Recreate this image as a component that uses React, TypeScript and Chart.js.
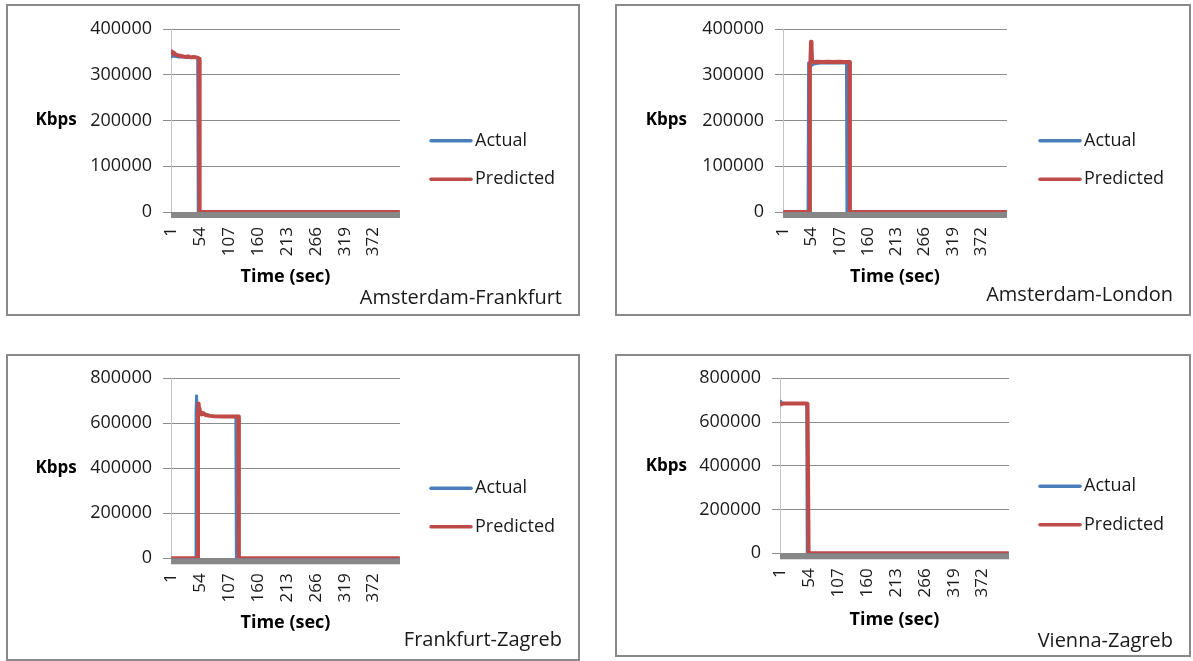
import React, { useEffect, useRef } from 'react';
import { Chart, registerables } from 'chart.js';

Chart.register(...registerables);

// ---------------- data ----------------
const X_TICK_LABELS = [1, 54, 107, 160, 213, 266, 319, 372];
const X_FIRST = 1;
const X_LAST = 420;
const SERIES_LABELS = ['Actual', 'Predicted'];
const Y_TITLE = 'Kbps';
const X_TITLE = 'Time (sec)';

// [time (sec), Kbps]
const AF_ACTUAL: [number, number][] = [
  [1, 341000], [2, 339000], [3, 342000], [4, 340000], [6, 341000], [8, 339000], [11, 340000],
  [14, 338000], [18, 339000], [22, 338000], [26, 339000], [30, 337000], [34, 338000], [38, 337000],
  [42, 338000], [46, 337000], [49, 336000], [50, 0], [420, 0],
];
const AF_PREDICTED: [number, number][] = [
  [1, 348000], [2, 351000], [3, 347000], [4, 349000], [5, 346000], [7, 347000], [9, 344000],
  [12, 343000], [15, 342000], [19, 341000], [23, 340000], [27, 339000], [32, 340000], [37, 338000],
  [42, 339000], [47, 338000], [50, 337000], [52, 335000], [53, 0], [420, 0],
];

const AL_ACTUAL: [number, number][] = [
  [1, 0], [47, 0], [48, 326000], [49, 312000], [50, 315000], [52, 318000], [54, 320000], [57, 322000],
  [61, 323500], [66, 324500], [72, 325000], [80, 325500], [90, 325000], [100, 325500], [110, 325000],
  [119, 325000], [120, 0], [420, 0],
];
const AL_PREDICTED: [number, number][] = [
  [1, 0], [50, 0], [51, 322000], [52, 330000], [53, 372000], [54, 360000], [55, 329000], [58, 328000],
  [65, 328500], [75, 328000], [85, 328500], [95, 328000], [105, 328500], [115, 328000], [125, 328000],
  [126, 0], [420, 0],
];

const FZ_ACTUAL: [number, number][] = [
  [1, 0], [45, 0], [46, 650000], [47, 722000], [48, 700000], [49, 668000], [50, 655000], [52, 648000],
  [54, 652000], [56, 645000], [59, 648000], [62, 643000], [66, 640000], [70, 636000], [76, 633000],
  [85, 631000], [100, 630000], [110, 630000], [119, 629000], [120, 0], [420, 0],
];
const FZ_PREDICTED: [number, number][] = [
  [1, 0], [49, 0], [50, 640000], [51, 688000], [52, 665000], [53, 642000], [55, 650000], [57, 640000],
  [60, 645000], [63, 638000], [67, 636000], [72, 633000], [80, 631000], [95, 630000], [110, 630000],
  [124, 630000], [125, 0], [420, 0],
];

const VZ_ACTUAL: [number, number][] = [
  [1, 696000], [2, 693000], [3, 690000], [4, 688000], [6, 687000], [10, 686000], [20, 685000],
  [30, 685500], [40, 685000], [48, 685000], [49, 680000], [50, 0], [420, 0],
];
const VZ_PREDICTED: [number, number][] = [
  [1, 680000], [2, 682000], [4, 684000], [8, 685000], [20, 685000], [35, 685000], [50, 685000],
  [51, 683000], [53, 0], [420, 0],
];

// ---------------- style / layout ----------------
const FONT = "'Open Sans', sans-serif";
const TEXT = '#1a1a1a';
const GRID = '#8c8c8c';
const AXIS = '#c4c4c4';
const BAND = '#878787';
const BLUE = '#4a7ebb';
const RED = '#be4b48';
const BORDER = 2;
const X_TITLE_SIZE = 18;

type PanelCfg = {
  title: string;
  actual: [number, number][];
  predicted: [number, number][];
  yMax: number;
  yStep: number;
  box: { left: number; top: number; right: number; bottom: number };
  plot: { left: number; top: number; right: number; bottom: number };
  timeY: number;
  kbpsRight: number;
  titleRight: number;
  titleY: number;
};

const PANELS: PanelCfg[] = [
  {
    title: 'Amsterdam-Frankfurt', actual: AF_ACTUAL, predicted: AF_PREDICTED, yMax: 400000, yStep: 100000,
    box: { left: 6, top: 4, right: 580, bottom: 316 },
    plot: { left: 171, top: 29, right: 400, bottom: 212 },
    timeY: 276.7, kbpsRight: 76.7, titleRight: 562, titleY: 298.5,
  },
  {
    title: 'Amsterdam-London', actual: AL_ACTUAL, predicted: AL_PREDICTED, yMax: 400000, yStep: 100000,
    box: { left: 615, top: 4, right: 1191, bottom: 316 },
    plot: { left: 783, top: 29, right: 1007, bottom: 212 },
    timeY: 276.7, kbpsRight: 687, titleRight: 1173, titleY: 295.5,
  },
  {
    title: 'Frankfurt-Zagreb', actual: FZ_ACTUAL, predicted: FZ_PREDICTED, yMax: 800000, yStep: 200000,
    box: { left: 6, top: 354, right: 580, bottom: 661 },
    plot: { left: 171, top: 378.3, right: 400, bottom: 558.3 },
    timeY: 623.3, kbpsRight: 76.7, titleRight: 562, titleY: 640,
  },
  {
    title: 'Vienna-Zagreb', actual: VZ_ACTUAL, predicted: VZ_PREDICTED, yMax: 800000, yStep: 200000,
    box: { left: 615, top: 354, right: 1191, bottom: 657 },
    plot: { left: 780, top: 378.3, right: 1009, bottom: 553.3 },
    timeY: 620, kbpsRight: 687, titleRight: 1173, titleY: 641.5,
  },
];

const decorPlugin = {
  id: 'panelDecor',
  beforeDatasetsDraw(chart: any) {
    const { ctx, chartArea: a } = chart;
    ctx.save();
    ctx.fillStyle = BAND;
    ctx.fillRect(a.left, a.bottom, a.right - a.left, 6);
    ctx.restore();
  },
  afterDraw(chart: any, _args: any, opts: any) {
    const { ctx, chartArea: a } = chart;
    ctx.save();
    ctx.textBaseline = 'middle';
    // horizontal y-axis title
    ctx.font = `bold 17px ${FONT}`;
    ctx.fillStyle = '#000';
    ctx.textAlign = 'right';
    ctx.fillText(opts.yTitle, opts.yTitleRight, (a.top + a.bottom) / 2);
    // legend
    const ds = chart.data.datasets;
    const n = ds.length;
    ds.forEach((d: any, i: number) => {
      const y = opts.legendCenterY + (i - (n - 1) / 2) * 38.5;
      ctx.strokeStyle = d.borderColor;
      ctx.lineWidth = 3.5;
      ctx.lineCap = 'round';
      ctx.beginPath();
      ctx.moveTo(opts.legendX + 1, y);
      ctx.lineTo(opts.legendX + 41, y);
      ctx.stroke();
      ctx.fillStyle = TEXT;
      ctx.font = `18px ${FONT}`;
      ctx.textAlign = 'left';
      ctx.fillText(d.label, opts.legendX + 45, y);
    });
    // panel caption
    ctx.font = `20px ${FONT}`;
    ctx.fillStyle = TEXT;
    ctx.textAlign = 'right';
    ctx.fillText(opts.caption, opts.captionRight, opts.captionY);
    ctx.restore();
  },
};

function Panel({ cfg }: { cfg: PanelCfg }) {
  const ref = useRef<HTMLCanvasElement>(null);
  const ox = cfg.box.left + BORDER;
  const oy = cfg.box.top + BORDER;
  const cw = cfg.box.right - cfg.box.left - 2 * BORDER;
  const ch = cfg.box.bottom - cfg.box.top - 2 * BORDER;

  useEffect(() => {
    Chart.defaults.font.family = FONT;
    Chart.defaults.color = TEXT;
    const lh = X_TITLE_SIZE * 1.2;
    const chartTop = cfg.plot.top - oy;
    const chartBottom = cfg.plot.bottom - oy;
    const chartLeft = cfg.plot.left - ox;
    const chartRight = cfg.plot.right - ox;
    const axisBottom = cfg.timeY - oy + lh / 2;

    const chart = new Chart(ref.current as HTMLCanvasElement, {
      type: 'line',
      data: {
        datasets: [
          {
            label: SERIES_LABELS[0],
            data: cfg.actual.map(([x, y]) => ({ x, y })),
            borderColor: BLUE,
            backgroundColor: BLUE,
            borderWidth: 2.5,
            pointRadius: 0,
            tension: 0,
            borderJoinStyle: 'round',
            order: 1,
          },
          {
            label: SERIES_LABELS[1],
            data: cfg.predicted.map(([x, y]) => ({ x, y })),
            borderColor: RED,
            backgroundColor: RED,
            borderWidth: 4,
            pointRadius: 0,
            tension: 0,
            borderJoinStyle: 'round',
            order: 0,
          },
        ],
      },
      options: {
        animation: false,
        responsive: false,
        maintainAspectRatio: false,
        events: [],
        layout: {
          padding: { left: 0, top: chartTop, right: cw - chartRight, bottom: ch - axisBottom },
        },
        plugins: {
          legend: { display: false },
          tooltip: { enabled: false },
          title: { display: false },
          panelDecor: {
            yTitle: Y_TITLE,
            yTitleRight: cfg.kbpsRight - ox,
            legendX: cfg.box.left + 424 - ox,
            legendCenterY: (cfg.box.top + cfg.box.bottom) / 2 - oy,
            caption: cfg.title,
            captionRight: cfg.titleRight - ox,
            captionY: cfg.titleY - oy,
          },
        } as any,
        scales: {
          x: {
            type: 'linear',
            min: X_FIRST - 0.5,
            max: X_LAST + 0.5,
            afterFit: (s: any) => { s.height = axisBottom - chartBottom; },
            afterBuildTicks: (s: any) => { s.ticks = X_TICK_LABELS.map((v) => ({ value: v })); },
            grid: { display: false, drawTicks: false },
            border: { display: false },
            ticks: {
              autoSkip: false,
              minRotation: 90,
              maxRotation: 90,
              padding: 15,
              font: { size: 17 },
              color: TEXT,
              callback: (v: any) => String(v),
            },
            title: {
              display: true,
              text: X_TITLE,
              color: '#000',
              font: { size: X_TITLE_SIZE, weight: 'bold' },
              padding: { top: 0, bottom: 0 },
            },
          },
          y: {
            min: 0,
            max: cfg.yMax,
            afterFit: (s: any) => { s.width = chartLeft; },
            ticks: {
              stepSize: cfg.yStep,
              padding: 11,
              font: { size: 18 },
              color: TEXT,
              callback: (v: any) => String(v),
            },
            grid: { color: GRID, tickLength: 8, drawTicks: true },
            border: { display: true, color: AXIS, width: 1 },
          },
        },
      } as any,
      plugins: [decorPlugin as any],
    });
    return () => chart.destroy();
  }, []);

  return (
    <div
      style={{
        position: 'absolute',
        left: cfg.box.left,
        top: cfg.box.top,
        width: cfg.box.right - cfg.box.left,
        height: cfg.box.bottom - cfg.box.top,
        boxSizing: 'border-box',
        border: `${BORDER}px solid #898989`,
        background: '#fff',
      }}
    >
      <canvas ref={ref} width={cw} height={ch} style={{ display: 'block', width: cw, height: ch }} />
    </div>
  );
}

export default function App() {
  return (
    <div style={{ position: 'absolute', left: 0, top: 0, width: 1193, height: 661, background: '#fff', overflow: 'hidden' }}>
      {PANELS.map((p) => (
        <Panel key={p.title} cfg={p} />
      ))}
    </div>
  );
}
